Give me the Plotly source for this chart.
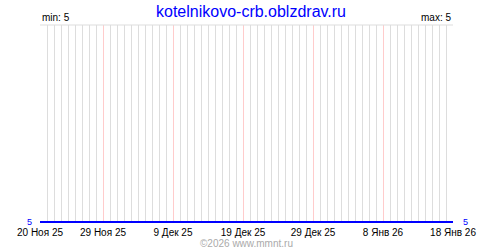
import plotly.graph_objects as go
import pandas as pd

title_text = "kotelnikovo-crb.oblzdrav.ru"
dates = list(pd.date_range("2025-11-20", "2026-01-18", freq="D"))
values = [5, 5, 5, 5, 5, 5, 5, 5, 5, 5,
          5, 5, 5, 5, 5, 5, 5, 5, 5, 5,
          5, 5, 5, 5, 5, 5, 5, 5, 5, 5,
          5, 5, 5, 5, 5, 5, 5, 5, 5, 5,
          5, 5, 5, 5, 5, 5, 5, 5, 5, 5,
          5, 5, 5, 5, 5, 5, 5, 5, 5, 5]
tick_dates = ["2025-11-20", "2025-11-29", "2025-12-09", "2025-12-19",
              "2025-12-29", "2026-01-08", "2026-01-18"]
tick_labels = ["20 Ноя 25", "29 Ноя 25", "9 Дек 25", "19 Дек 25",
               "29 Дек 25", "8 Янв 26", "18 Янв 26"]
min_val = 5
max_val = 5

FONT = "Liberation Sans"
BLUE = "#0000ff"

fig = go.Figure()
fig.add_trace(go.Scatter(x=dates, y=values, mode="lines",
                         line=dict(color=BLUE, width=2), hoverinfo="skip",
                         showlegend=False))

fig.update_layout(
    width=500, height=250,
    margin=dict(l=40, r=47, t=25, b=25),
    paper_bgcolor="white", plot_bgcolor="white",
    font=dict(family=FONT, size=10, color="black"),
    xaxis=dict(
        type="date",
        range=[dates[0], dates[-1]],
        tickvals=tick_dates, ticktext=tick_labels,
        showgrid=True, gridcolor="#ffcccc", gridwidth=1,
        minor=dict(dtick=86400000, tick0=tick_dates[0], showgrid=True,
                   gridcolor="#dddddd", gridwidth=1),
        showline=False, zeroline=False, ticks="",
        tickfont=dict(family=FONT, size=10, color="black"),
        ticklabelstandoff=2,
    ),
    yaxis=dict(
        range=[4.995, 5.995],
        showticklabels=False,
        showgrid=False, zeroline=False, showline=False, ticks="",
    ),
    shapes=[dict(type="line", xref="paper", yref="paper", x0=0, x1=1,
                 y0=1, y1=1, line=dict(color="#dddddd", width=1))],
    annotations=[
        dict(text=title_text, xref="paper", yref="paper", x=0.5, y=1,
             xanchor="center", yanchor="bottom", xshift=4, yshift=3,
             showarrow=False,
             font=dict(family=FONT, size=16, color=BLUE)),
        dict(text="min: " + str(min_val), xref="paper", yref="paper", x=0,
             y=1, xanchor="left", yanchor="bottom", showarrow=False,
             font=dict(family=FONT, size=10, color="black")),
        dict(text="max: " + str(max_val), xref="paper", yref="paper", x=1,
             y=1, xanchor="right", yanchor="bottom", showarrow=False,
             font=dict(family=FONT, size=10, color="black")),
        dict(text=str(min_val), xref="paper", yref="y", x=0, y=min_val,
             xanchor="right", yanchor="bottom", xshift=-6, yshift=-7,
             showarrow=False, font=dict(family=FONT, size=9, color=BLUE)),
        dict(text=str(max_val), xref="paper", yref="y", x=1, y=max_val,
             xanchor="left", yanchor="bottom", xshift=8, yshift=-7,
             showarrow=False, font=dict(family=FONT, size=9, color=BLUE)),
        dict(text="©2026 www.mmnt.ru", xref="paper", yref="paper", x=0.5,
             y=0, xanchor="center", yanchor="top", yshift=-13,
             showarrow=False, font=dict(family=FONT, size=10, color="#aaaaaa")),
    ],
)

fig.write_html("out.html")
